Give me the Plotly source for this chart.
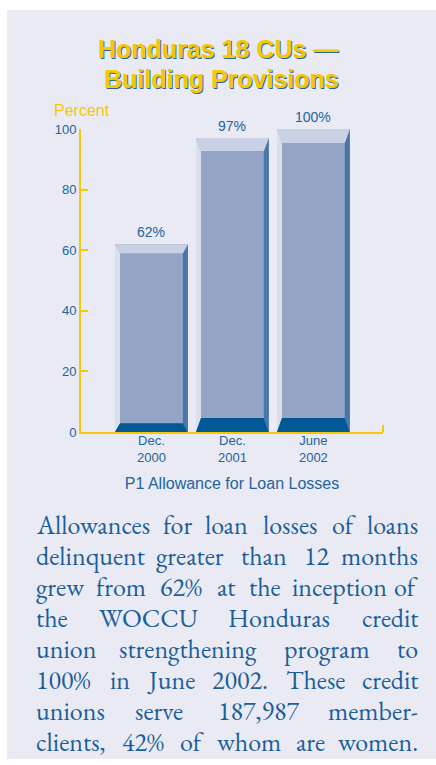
import plotly.graph_objects as go

# ---------------- data ----------------
categories = ["Dec.<br>2000", "Dec.<br>2001", "June<br>2002"]
values = [62, 97, 100]
value_labels = ["62%", "97%", "100%"]
y_ticks = [0, 20, 40, 60, 80, 100]
title_lines = ["Honduras 18 CUs —", "Building Provisions"]
x_title = "P1 Allowance for Loan Losses"
y_title = "Percent"
body_lines = [
    "Allowances for loan losses of loans",
    "delinquent greater than 12 months",
    "grew from 62% at the inception of",
    "the WOCCU Honduras credit",
    "union strengthening program to",
    "100% in June 2002. These credit",
    "unions serve 187,987 member-",
    "clients, 42% of whom are women.",
]

# ---------------- style ----------------
W, H = 436, 765
L, R, T, B = 81, 53, 129, 333          # plot area margins (px)
PW, PH = W - L - R, H - T - B
BG = "#E9EAF3"
YELLOW = "#F5C800"
BLUE_TXT = "#2364A0"
FRONT = "#93A4C7"
TOPC = "#CBD1E4"
LEFTC = "#DADFEC"
RIGHTC = "#4A77AA"
BOTC = "#005895"
BAR_W = 0.9
LS, RS = 0.062, 0.062                   # side strips (x units)
TOP_DEPTH = [3.0, 4.3, 4.6]             # y units
BOT_DEPTH = [2.9, 4.6, 4.6]
XR = [-0.87, 2.86]
SERIF = "EB Garamond"
SANS = "Liberation Sans"


def px_x(p):
    return (p - L) / PW


def px_y(p):
    return (H - B - p) / PH


fig = go.Figure()
xs = list(range(len(values)))

fig.add_trace(go.Bar(x=xs, y=values, width=BAR_W, marker=dict(color=FRONT, line=dict(width=0)),
                     hoverinfo="skip", showlegend=False))


def poly(px, py, color):
    fig.add_trace(go.Scatter(x=px + [px[0]], y=py + [py[0]], fill="toself", fillcolor=color,
                             mode="lines", line=dict(width=0, color=color),
                             hoverinfo="skip", showlegend=False))


for i, (c, v) in enumerate(zip(xs, values)):
    l, r = c - BAR_W / 2, c + BAR_W / 2
    d, bd = TOP_DEPTH[i], BOT_DEPTH[i]
    poly([l, l + LS, l + LS, l], [v, v - d, bd, 0], LEFTC)          # left strip
    poly([r - RS, r, r, r - RS], [v - d, v, 0, bd], RIGHTC)         # right strip
    poly([l, r, r - RS, l + LS], [v, v, v - d, v - d], TOPC)        # top bevel
    poly([l, r, r - RS, l + LS], [0, 0, bd, bd], BOTC)              # bottom band

annotations = []
for c, v, t in zip(xs, values, value_labels):
    annotations.append(dict(x=c, y=v, xref="x", yref="y", text=t, showarrow=False,
                            yanchor="bottom", yshift=2,
                            font=dict(family=SANS, size=14, color=BLUE_TXT)))

# title with subtle shadow
title_y = [48.7, 79]
title_x = [218, 221]
for t, yy, xx in zip(title_lines, title_y, title_x):
    for col, sh in (("#2A64A0", 1.2), (YELLOW, 0)):
        annotations.append(dict(x=px_x(xx), y=px_y(yy), xref="paper", yref="paper", text="<b>%s</b>" % t,
                                showarrow=False, xanchor="center", yanchor="middle",
                                xshift=sh, yshift=-sh,
                                font=dict(family=SANS, size=25, color=col)))

annotations.append(dict(x=px_x(52), y=px_y(111), xref="paper", yref="paper", text=y_title,
                        showarrow=False, xanchor="left", yanchor="middle",
                        font=dict(family=SANS, size=16, color=YELLOW)))

# body text, justified word by word (approx. serif metrics for spacing; edges anchored)
TW = {c: 500 for c in "abdghknopquvxy0123456789"}
TW.update({"c": 444, "e": 444, "a": 444, "z": 444, "f": 333, "r": 333, "i": 278, "j": 278, "l": 278,
           "t": 278, "m": 778, "s": 389, "w": 722, "A": 722, "C": 667, "D": 722, "H": 722, "J": 389,
           "O": 722, "T": 611, "U": 722, "W": 944, "%": 833, ".": 250, ",": 250, "-": 333, " ": 250})
GARAMOND_SCALE = 0.925
FS = 26
LEFT_X, RIGHT_X = 35, 419
BASE0, LSTEP = 534, 31.0
for li, line in enumerate(body_lines):
    words = line.split(" ")
    widths = [sum(TW.get(ch, 500) for ch in w) * FS * GARAMOND_SCALE / 1000 for w in words]
    gap = (RIGHT_X - LEFT_X - sum(widths)) / (len(words) - 1)
    xpos = LEFT_X
    base = BASE0 + li * LSTEP
    n = len(words)
    for k, (w, wd) in enumerate(zip(words, widths)):
        if k == 0:
            ax, anc = xpos, "left"
        elif k == n - 1:
            ax, anc = RIGHT_X, "right"
        else:
            ax, anc = xpos + wd / 2, "center"
        annotations.append(dict(x=px_x(ax), y=px_y(base - 8.6), xref="paper", yref="paper",
                                text=w, showarrow=False, xanchor=anc, yanchor="middle", borderpad=0,
                                font=dict(family=SERIF, size=FS, color="#1B5E9A")))
        xpos += wd + gap

shapes = [
    dict(type="rect", xref="paper", yref="paper", x0=px_x(7), x1=px_x(436), y0=px_y(759), y1=px_y(10),
         fillcolor=BG, line=dict(width=0), layer="below"),
    dict(type="line", xref="x domain", yref="y domain", x0=1, x1=1, y0=0, y1=7 / PH,
         line=dict(color=YELLOW, width=2)),
]

fig.update_layout(
    width=W, height=H, margin=dict(l=L, r=R, t=T, b=B),
    paper_bgcolor="white", plot_bgcolor="rgba(0,0,0,0)",
    annotations=annotations, shapes=shapes, bargap=0,
    xaxis=dict(range=XR, tickvals=xs, ticktext=categories, showgrid=False, zeroline=False,
               showline=True, linecolor=YELLOW, linewidth=2, ticks="", ticklabelstandoff=-5,
               tickfont=dict(family=SANS, size=13, color=BLUE_TXT),
               title=dict(text=x_title, standoff=14,
                          font=dict(family=SANS, size=16, color=BLUE_TXT)),
               fixedrange=True),
    yaxis=dict(range=[0, 100], tickvals=y_ticks, showgrid=False, zeroline=False,
               showline=True, linecolor=YELLOW, linewidth=2, ticks="inside", ticklen=7,
               tickwidth=2, tickcolor=YELLOW,
               tickfont=dict(family=SANS, size=13, color=BLUE_TXT),
               fixedrange=True),
)

fig.write_html("out.html")
